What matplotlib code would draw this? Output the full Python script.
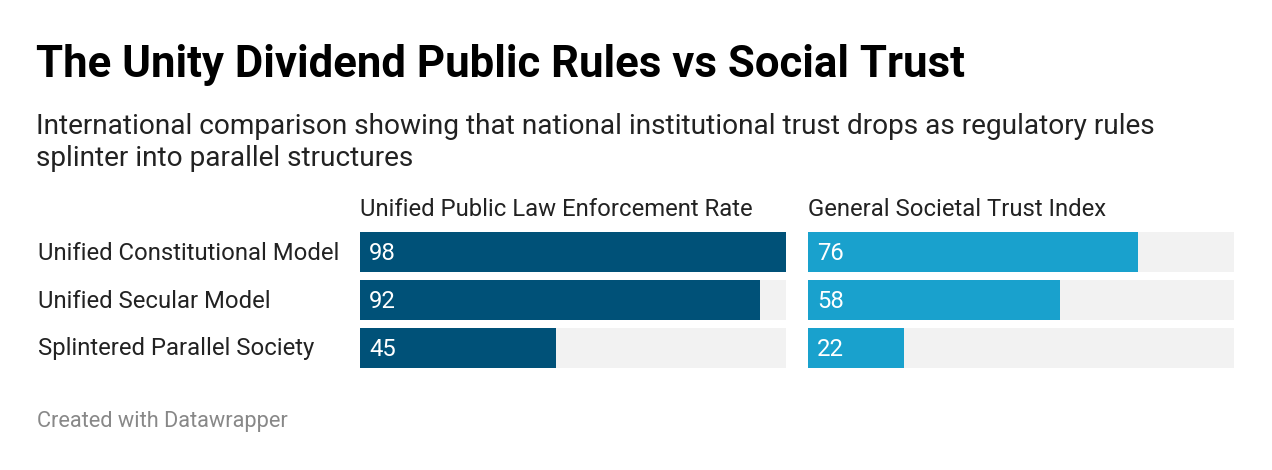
import matplotlib.pyplot as plt

# chart data
categories = ["Unified Constitutional Model", "Unified Secular Model", "Splintered Parallel Society"]
enforcement = [98, 92, 45]
trust = [76, 58, 22]
col_titles = ["Unified Public Law Enforcement Rate", "General Societal Trust Index"]

W, H = 1272, 470
plt.rcParams['font.family'] = ['Roboto', 'DejaVu Sans']

fig = plt.figure(figsize=(W / 100, H / 100), dpi=100)


def fx(px):
    return px / W


def fy(py):
    return 1 - py / H


fig.text(fx(36), fy(65), "The Unity Dividend Public Rules vs Social Trust",
         fontsize=31.5, fontweight='bold', color='#000000', va='center')
fig.text(fx(36), fy(127), "International comparison showing that national institutional trust drops as regulatory rules",
         fontsize=20.2, color='#222222', va='center')
fig.text(fx(36), fy(159), "splinter into parallel structures",
         fontsize=20.2, color='#222222', va='center')
fig.text(fx(37), fy(421), "Created with Datawrapper", fontsize=15.7, color='#888888', va='center')

top, bottom = 232, 368
vmax = max(enforcement + trust)
panels = [(360, enforcement, '#005178'), (808, trust, '#19a1cd')]
for (left, vals, color), title in zip(panels, col_titles):
    ax = fig.add_axes([fx(left), fy(bottom), fx(426), (bottom - top) / H])
    ax.set_xlim(0, vmax)
    ax.set_ylim(len(categories) - 1 + 20 / 48, -20 / 48)
    ys = range(len(categories))
    ax.barh(ys, [vmax] * len(vals), height=40 / 48, color='#f2f2f2')
    ax.barh(ys, vals, height=40 / 48, color=color)
    for y, v in zip(ys, vals):
        ax.text(vmax * 9 / 426, y + 0.03, str(v), color='white', fontsize=17.2, va='center', ha='left')
    ax.axis('off')
    fig.text(fx(left), fy(209), title, fontsize=17.2, color='#222222', va='center')

for i, c in enumerate(categories):
    fig.text(fx(38), fy(253 + 48 * i), c, fontsize=17.2, color='#222222', va='center')

fig.savefig('out.png', dpi=100)
